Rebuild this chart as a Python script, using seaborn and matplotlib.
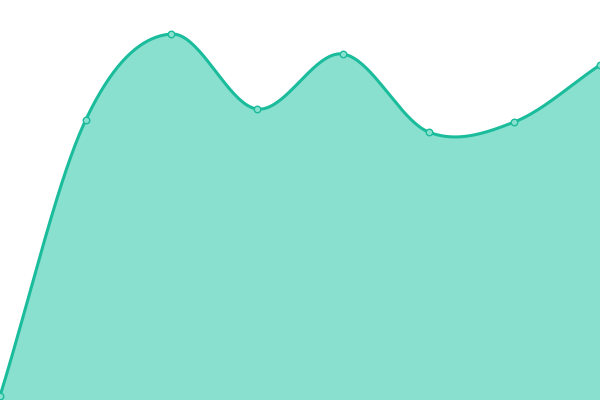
import numpy as np
import pandas as pd
import matplotlib
matplotlib.use("Agg")
import matplotlib.pyplot as plt
import seaborn as sns

# data
x_idx = [0, 1, 2, 3, 4, 5, 6, 7]
values = [4, 280, 366, 291, 346, 268, 278, 335]

line_color = "#1abc9c"
fill_color = "#89e0ce"


def catmull_rom(xs, ys, n=40):
    # smooth curve through the points (like d3 curveCardinal / catmull-rom)
    xs = np.asarray(xs, float)
    ys = np.asarray(ys, float)
    px = np.concatenate([[2 * xs[0] - xs[1]], xs, [2 * xs[-1] - xs[-2]]])
    py = np.concatenate([[2 * ys[0] - ys[1]], ys, [2 * ys[-1] - ys[-2]]])
    out_x, out_y = [], []
    for i in range(1, len(px) - 2):
        t = np.linspace(0, 1, n, endpoint=False)
        for p, out in ((px, out_x), (py, out_y)):
            p0, p1, p2, p3 = p[i - 1], p[i], p[i + 1], p[i + 2]
            out.extend(0.5 * ((2 * p1) + (-p0 + p2) * t
                              + (2 * p0 - 5 * p1 + 4 * p2 - p3) * t ** 2
                              + (-p0 + 3 * p1 - 3 * p2 + p3) * t ** 3))
    out_x.append(xs[-1])
    out_y.append(ys[-1])
    return np.array(out_x), np.array(out_y)


sx, sy = catmull_rom(x_idx, values)
curve = pd.DataFrame({"x": sx, "y": sy})
pts = pd.DataFrame({"x": x_idx, "y": values})

sns.set_style("white")
fig = plt.figure(figsize=(6, 4), dpi=100)
ax = fig.add_axes([0, 0, 1, 1])

ax.fill_between(curve["x"], curve["y"], 0, color=fill_color, linewidth=0)
sns.lineplot(data=curve, x="x", y="y", ax=ax, color=line_color,
             linewidth=2.2, sort=False, estimator=None)
sns.scatterplot(data=pts, x="x", y="y", ax=ax, s=22, color=fill_color,
                edgecolor=line_color, linewidth=1, zorder=5, clip_on=False)

ax.set_xlim(0, 7)
ax.set_ylim(0, 400)
ax.axis("off")

plt.savefig("out.png", dpi=100)
plt.close()
